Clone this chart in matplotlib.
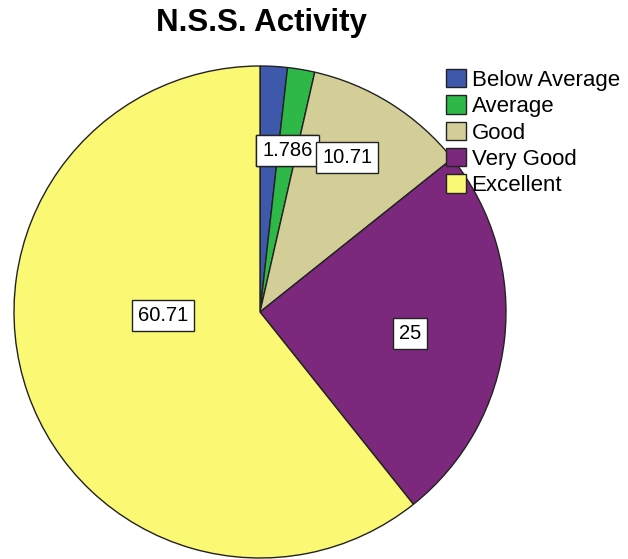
import numpy as np
import matplotlib
matplotlib.use("Agg")
import matplotlib.pyplot as plt
from matplotlib.patches import Patch

categories = ["Below Average", "Average", "Good", "Very Good", "Excellent"]
percents = [1.786, 1.786, 10.71, 25, 60.71]
value_labels = ["1.786", "1.786", "10.71", "25", "60.71"]
colors = ["#3E58AC", "#2EB848", "#D3CE97", "#7C287D", "#FBF873"]

# where SPSS put the value boxes: (fraction of radius, extra clockwise shift in deg)
label_r = [0.667, 0.667, 0.72, 0.615, 0.395]
label_shift = [6.3, 0.0, -2.6, 1.6, 17.0]

plt.rcParams["font.family"] = ["Liberation Sans", "DejaVu Sans"]

W, H = 628, 559
fig = plt.figure(figsize=(W / 100, H / 100), dpi=100)

cx, cy, R = 260, 312, 246
ax = fig.add_axes([(cx - R) / W, (H - cy - R) / H, 2 * R / W, 2 * R / H])

wedges, _ = ax.pie(percents, colors=colors, startangle=90, counterclock=False,
                   radius=1.0, wedgeprops=dict(edgecolor="#222222", linewidth=1.0))
ax.set_xlim(-1, 1)
ax.set_ylim(-1, 1)
ax.set_aspect("equal")
ax.axis("off")

# value boxes, placed from each wedge's middle angle
for i, w in enumerate(wedges):
    mid = np.deg2rad((w.theta1 + w.theta2) / 2 - label_shift[i])
    x = label_r[i] * np.cos(mid)
    y = label_r[i] * np.sin(mid)
    ax.text(x, y, value_labels[i], ha="center", va="center", fontsize=14.5,
            bbox=dict(boxstyle="square,pad=0.3", facecolor="white",
                      edgecolor="#222222", linewidth=1.0))

fig.text(261 / W, 1 - 23 / H, "N.S.S. Activity", ha="center", va="center",
         fontsize=22.5, fontweight="bold")

handles = [Patch(facecolor=c, edgecolor="#222222", linewidth=1.0) for c in colors]
fig.legend(handles, categories, loc="upper left",
           bbox_to_anchor=(446 / W, 1 - 69 / H), frameon=False, fontsize=16,
           handlelength=0.9, handleheight=0.9, handletextpad=0.25,
           labelspacing=0.2, borderpad=0, borderaxespad=0)

plt.savefig("out.png", dpi=100)
